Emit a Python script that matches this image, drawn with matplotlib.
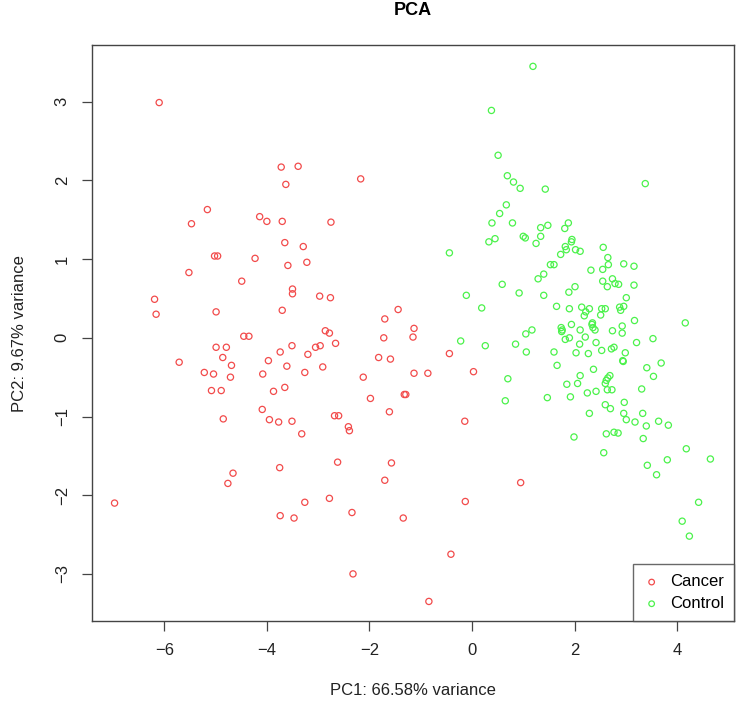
import numpy as np
import matplotlib
matplotlib.use('Agg')
import matplotlib.pyplot as plt

plt.rcParams['font.family'] = ['Liberation Sans', 'DejaVu Sans']

# PC scores
cancer_pc1 = [
    -6.10, -3.72, -3.39, -3.63, -5.16, -5.47, -4.14, -4.00, -3.70,
    -3.65, -3.29, -5.02, -4.96, -4.23, -3.59, -3.22, -5.52, -4.49, -3.50, -3.50,
    -6.19, -6.16, -4.99, -3.70, -4.45, -4.35, -4.99, -4.79, -3.51, -3.74, -3.20,
    -5.71, -4.86, -4.69, -3.97, -3.61, -5.22, -5.04, -4.71, -4.08, -3.26,
    -5.08, -4.89, -3.87, -3.65, -4.09, -4.85, -3.95, -3.77, -3.51,
    -3.32, -4.66, -4.76, -3.75, -6.97, -3.26, -3.74, -3.47,
    -2.97, -2.76, -1.44, -1.70, -1.13, -1.15, -1.72, -2.86, -2.78, -2.66,
    -3.05, -2.96, -2.91, -1.82, -1.59, -0.44, -2.12, -1.13, -0.86, 0.03,
    -1.32, -1.29, -1.98, -1.61, -2.68, -2.60, -2.41, -0.14,
    -2.39, -2.62, -1.57, -1.70, -2.78, -2.34, -1.34, -0.13, -0.41, -2.32, -0.84,
    -2.17, -2.75, 0.95,
]
cancer_pc2 = [
    2.99, 2.17, 2.18, 1.95, 1.63, 1.45, 1.54, 1.48, 1.48,
    1.21, 1.16, 1.04, 1.04, 1.01, 0.92, 0.96, 0.83, 0.72, 0.62, 0.56,
    0.49, 0.30, 0.33, 0.35, 0.02, 0.02, -0.12, -0.12, -0.10, -0.18, -0.21,
    -0.31, -0.25, -0.35, -0.29, -0.36, -0.44, -0.46, -0.50, -0.46, -0.44,
    -0.67, -0.67, -0.68, -0.63, -0.91, -1.03, -1.04, -1.07, -1.06,
    -1.22, -1.72, -1.85, -1.65, -2.10, -2.09, -2.26, -2.29,
    0.53, 0.51, 0.36, 0.24, 0.12, 0.01, 0.00, 0.09, 0.06, -0.07,
    -0.12, -0.10, -0.37, -0.25, -0.27, -0.20, -0.50, -0.45, -0.45, -0.43,
    -0.72, -0.72, -0.77, -0.94, -0.99, -0.99, -1.13, -1.06,
    -1.18, -1.58, -1.59, -1.81, -2.04, -2.22, -2.29, -2.08, -2.75, -3.00, -3.35,
    2.02, 1.47, -1.84,
]

control_pc1 = [
    -0.44, 0.33, 0.45, 0.59, -0.11, 0.19, -0.22, 0.26, 0.70, 0.65,
    0.38, 0.51, 0.69, 0.67, 0.54, 0.39,
    1.19, 0.81, 0.94, 1.43, 3.38, 0.79, 1.34, 1.48, 1.81, 1.88,
    1.00, 1.04, 1.34, 1.25, 1.95, 1.94, 1.82, 1.84, 1.73, 2.02, 2.11, 2.56,
    1.53, 1.60, 2.65, 2.66, 2.96, 3.16, 2.32, 2.55, 1.29, 1.40, 2.55, 2.74,
    2.79, 2.86, 2.64, 3.16, 0.92, 1.40, 1.89, 2.01, 3.01, 1.65, 1.90, 2.14,
    2.22, 2.19, 2.29, 2.53, 2.60, 2.51, 2.88, 2.96, 2.90, 3.17, 4.16,
    1.74, 1.76, 1.75, 1.94, 2.35, 2.34, 2.36, 2.40, 2.11, 2.74, 2.93, 2.93,
    1.17, 1.05, 1.90, 1.82, 2.21, 0.85, 2.10, 2.42, 3.21, 3.53,
    1.06, 1.60, 2.03, 2.27, 2.53, 2.72, 2.77, 2.99, 2.94, 2.95, 1.66, 2.37,
    3.41, 3.69, 3.54, 2.11, 2.69, 2.65, 2.62, 2.60, 1.85, 2.06, 2.64, 2.73,
    3.31, 2.25, 2.42, 1.47, 1.92, 2.60, 2.70, 2.97, 2.29, 2.96, 3.33,
    3.01, 3.18, 3.40, 3.64, 3.83,
    1.99, 2.62, 2.77, 2.85, 3.34, 2.57, 4.18, 3.81, 4.65, 3.42, 3.60,
    4.42, 4.10, 4.24,
]
control_pc2 = [
    1.08, 1.22, 1.26, 0.68, 0.54, 0.38, -0.04, -0.10, -0.52, -0.80,
    2.89, 2.32, 2.06, 1.69, 1.58, 1.46,
    3.45, 1.98, 1.90, 1.89, 1.96, 1.46, 1.40, 1.43, 1.39, 1.46,
    1.29, 1.27, 1.29, 1.20, 1.25, 1.22, 1.16, 1.12, 1.06, 1.12, 1.10, 1.15,
    0.93, 0.93, 1.02, 0.93, 0.94, 0.91, 0.86, 0.87, 0.75, 0.81, 0.72, 0.75,
    0.69, 0.68, 0.65, 0.67, 0.57, 0.54, 0.58, 0.65, 0.51, 0.40, 0.37, 0.39,
    0.33, 0.28, 0.37, 0.37, 0.37, 0.29, 0.39, 0.40, 0.35, 0.22, 0.19,
    0.13, 0.10, 0.08, 0.17, 0.19, 0.17, 0.13, 0.10, 0.10, 0.09, 0.15, 0.06,
    0.10, 0.05, 0.00, -0.02, 0.01, -0.08, -0.08, -0.06, -0.06, -0.01,
    -0.18, -0.18, -0.19, -0.20, -0.16, -0.14, -0.12, -0.19, -0.29, -0.30, -0.35, -0.40,
    -0.38, -0.32, -0.49, -0.48, -0.48, -0.51, -0.54, -0.58, -0.59, -0.58, -0.66, -0.66,
    -0.65, -0.70, -0.68, -0.76, -0.75, -0.85, -0.90, -0.82, -0.96, -0.96, -0.96,
    -1.04, -1.07, -1.12, -1.06, -1.11,
    -1.26, -1.22, -1.20, -1.21, -1.28, -1.46, -1.41, -1.55, -1.54, -1.62, -1.74,
    -2.09, -2.33, -2.52,
]

groups = ['Cancer', 'Control']
colors = ['#F24B4B', '#4BF24B']

fig = plt.figure(figsize=(7.39, 7.05), dpi=100)
ax = fig.add_axes([0.1245, 0.119, 0.8687, 0.817])

for name, xs, ys, c in zip(groups, [cancer_pc1, control_pc1], [cancer_pc2, control_pc2], colors):
    ax.scatter(xs, ys, s=20, facecolors='none', edgecolors=c, linewidths=0.9, label=name)

ax.set_xlim(-7.41, 5.11)
ax.set_ylim(-3.60, 3.72)
ax.set_xticks([-6, -4, -2, 0, 2, 4])
ax.set_yticks([-3, -2, -1, 0, 1, 2, 3])
ax.set_xticklabels(['\u22126', '\u22124', '\u22122', '0', '2', '4'])
ax.set_yticklabels(['\u22123', '\u22122', '\u22121', '0', '1', '2', '3'], rotation=90, va='center')
ax.tick_params(direction='out', length=7, width=0.9, color='#444444', labelsize=12,
               labelcolor='#222222', pad=9)
for sp in ax.spines.values():
    sp.set_color('#444444')
    sp.set_linewidth(1.0)

ax.set_title('PCA', fontsize=13, fontweight='bold', pad=22)
ax.set_xlabel('PC1: 66.58% variance', fontsize=12, color='#222222', labelpad=18)
ax.set_ylabel('PC2: 9.67% variance', fontsize=12, color='#222222', labelpad=20)

leg = ax.legend(loc='lower right', borderaxespad=0, fancybox=False, fontsize=12,
                handletextpad=0.6, handlelength=1.0, borderpad=0.6, labelspacing=0.4,
                markerscale=0.9)
leg.get_frame().set_edgecolor('#444444')
leg.get_frame().set_linewidth(1.0)

fig.savefig('out.png', dpi=100)
